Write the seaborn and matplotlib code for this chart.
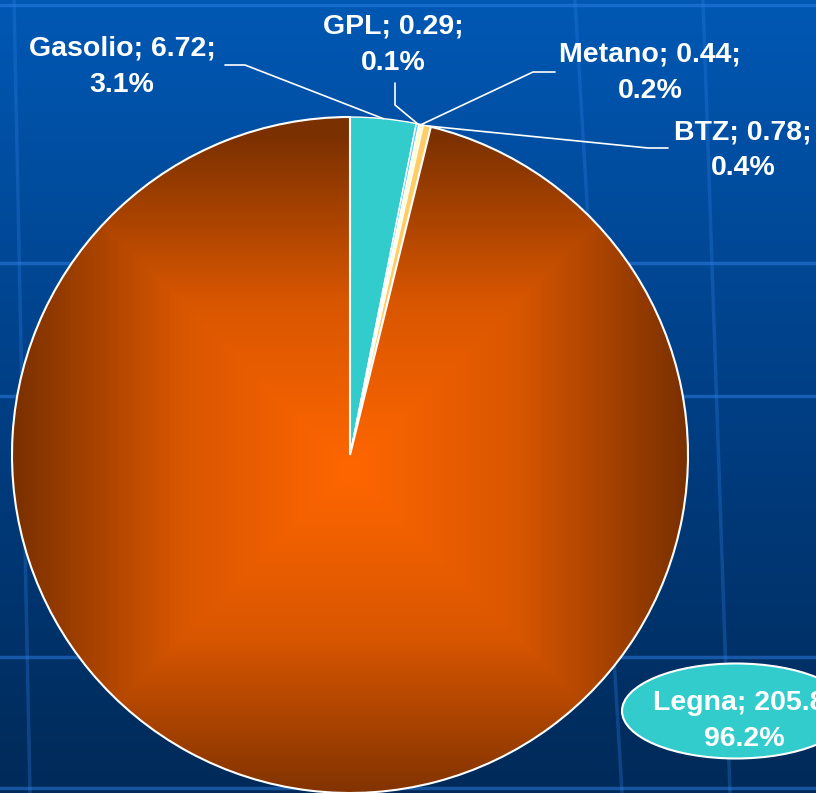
import numpy as np
import matplotlib.pyplot as plt
from matplotlib.colors import LinearSegmentedColormap
from matplotlib.patches import Ellipse
import seaborn as sns

# Data
labels = ["Gasolio", "GPL", "Metano", "BTZ", "Legna"]
values = [6.72, 0.29, 0.44, 0.78, 205.8]
colors = ["#33CCCC", "#66CCFF", "#FFFFCC", "#FFCC66", "#FF6600"]

sns.set_style("white")
plt.rcParams['font.family'] = ['Liberation Sans', 'DejaVu Sans']

W, H = 816, 793
fig = plt.figure(figsize=(W / 100, H / 100), dpi=100)
ax = fig.add_axes([0, 0, 1, 1])

# Blue gradient background with the template grid
bg = LinearSegmentedColormap.from_list("bg", ["#0058b4", "#003f85", "#002a58"])
ax.imshow(np.linspace(0, 1, 256).reshape(-1, 1), cmap=bg, extent=(0, W, 0, H),
          aspect='auto', zorder=0)
for y in [5, 263, 396, 657, 788]:
    ax.plot([0, W], [H - y, H - y], color="#2f7fe6", alpha=0.5, lw=2.5, zorder=0.5)
for x0, x1 in [(14, 30), (575, 622), (703, 730)]:
    ax.plot([x0, x1], [H, 0], color="#2f7fe6", alpha=0.3, lw=2.5, zorder=0.5)

# Pie
cx, cy, R = 350, H - 455, 338
wedges, _ = ax.pie(values, colors=colors, startangle=90, counterclock=False,
                   center=(cx, cy), radius=R, frame=False,
                   wedgeprops=dict(edgecolor="white", linewidth=1.0, zorder=2))

# box gradient fill for the Legna slice
legna_cmap = LinearSegmentedColormap.from_list("legna", ["#FF6600", "#D85600", "#7A3000"])
gx = np.linspace(cx - R, cx + R, 500)
gy = np.linspace(cy + R, cy - R, 500)
X, Y = np.meshgrid(gx, gy)
t = np.maximum(np.abs(X - 350), np.abs(Y - (H - 470))) / R
t = np.clip(t, 0, 1)
im = ax.imshow(t, cmap=legna_cmap, vmin=0, vmax=1, extent=(cx - R, cx + R, cy - R, cy + R),
               aspect='auto', zorder=3)
im.set_clip_path(wedges[4])
wedges[4].set_facecolor("none")
wedges[4].set_linewidth(1.5)
wedges[4].set_zorder(4)

total = sum(values)
label_pos = [(122, 67), (393, 45), (650, 73), (743, 150), (744, 721)]
leader_start = [[(225, 65), (245, 65)], [(395, 83), (395, 105)],
                [(555, 72), (533, 72)], [(668, 148), (648, 148)]]

# Legna label box
ax.add_patch(Ellipse((736, H - 711), 228, 95, facecolor="#33CCCC", edgecolor="white",
                     lw=1.5, zorder=5))

for i, (lab, v) in enumerate(zip(labels, values)):
    tx, ty = label_pos[i]
    ax.text(tx, H - ty, f"{lab}; {v:g};\n{v / total * 100:.1f}%", ha="center", va="center",
            color="white", fontsize=20.5, fontweight="bold", linespacing=1.5, zorder=6)
    if i < 4:
        w = wedges[i]
        th = np.deg2rad((w.theta1 + w.theta2) / 2)
        px, py = cx + R * np.cos(th), cy + R * np.sin(th)
        xs = [p[0] for p in leader_start[i]] + [px]
        ys = [H - p[1] for p in leader_start[i]] + [py]
        ax.plot(xs, ys, color="white", lw=1.2, zorder=5)

ax.set_xlim(0, W)
ax.set_ylim(0, H)
ax.set_axis_off()
fig.savefig("out.png", dpi=100)
